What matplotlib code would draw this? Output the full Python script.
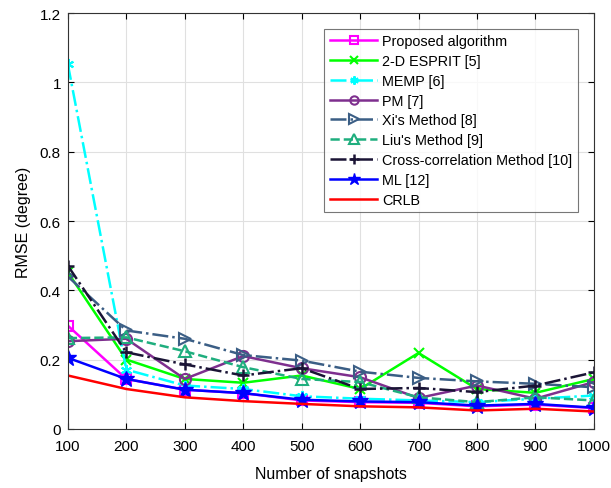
import matplotlib
matplotlib.use("Agg")
import matplotlib.pyplot as plt
import numpy as np

snapshots = [100, 200, 300, 400, 500, 600, 700, 800, 900, 1000]
proposed = [0.298, 0.144, 0.113, 0.103, 0.082, 0.077, 0.075, 0.065, 0.070, 0.060]
esprit = [0.452, 0.200, 0.144, 0.133, 0.154, 0.115, 0.219, 0.115, 0.104, 0.144]
memp = [1.053, 0.171, 0.125, 0.115, 0.094, 0.087, 0.082, 0.077, 0.087, 0.096]
pm = [0.253, 0.260, 0.144, 0.210, 0.175, 0.149, 0.089, 0.125, 0.087, 0.135]
xi = [0.440, 0.284, 0.260, 0.213, 0.197, 0.165, 0.147, 0.137, 0.130, 0.120]
liu = [0.262, 0.264, 0.224, 0.178, 0.144, 0.135, 0.091, 0.077, 0.091, 0.082]
cross = [0.471, 0.221, 0.186, 0.154, 0.175, 0.115, 0.118, 0.106, 0.125, 0.163]
ml = [0.205, 0.144, 0.113, 0.103, 0.084, 0.079, 0.077, 0.067, 0.072, 0.061]
crlb = [0.154, 0.115, 0.091, 0.080, 0.072, 0.065, 0.062, 0.053, 0.058, 0.050]

plt.rcParams['font.family'] = ['Liberation Sans', 'DejaVu Sans']

fig = plt.figure(figsize=(6.11, 4.89), dpi=100)
ax = fig.add_axes([0.111, 0.121, 0.861, 0.85])

lw = 1.8
ax.plot(snapshots, proposed, color='#FF00FF', marker='s', mfc='none', ms=7, mew=1.5, lw=lw, label='Proposed algorithm')
ax.plot(snapshots, esprit, color='#00FF00', marker='x', ms=7, mew=1.5, lw=lw, label='2-D ESPRIT [5]')
ax.plot(snapshots, memp, color='#00FFFF', marker=(6, 2, 0), ms=8, mew=1.5, lw=lw, ls='-.', label='MEMP [6]')
ax.plot(snapshots, pm, color='#7E2F8E', marker='o', mfc='none', ms=8, mew=1.5, lw=lw, label='PM [7]')
ax.plot(snapshots, xi, color='#3B5E85', marker='>', mfc='none', ms=9, mew=1.5, lw=lw, ls='-.', label="Xi's Method [8]")
ax.plot(snapshots, liu, color='#1FAE7E', marker='^', mfc='none', ms=9, mew=1.5, lw=lw, ls='--', label="Liu's Method [9]")
ax.plot(snapshots, cross, color='#1A1435', marker='+', ms=9, mew=1.8, lw=lw, ls='-.', label='Cross-correlation Method [10]')
ax.plot(snapshots, ml, color='#0000FF', marker='*', ms=12, lw=lw, label='ML [12]')
ax.plot(snapshots, crlb, color='#FF0000', lw=lw, label='CRLB')

ax.set_xlim(100, 1000)
ax.set_ylim(0, 1.2)
ax.set_xticks(snapshots)
ax.set_yticks([0, 0.2, 0.4, 0.6, 0.8, 1.0, 1.2])
ax.set_yticklabels(['0', '0.2', '0.4', '0.6', '0.8', '1', '1.2'])
ax.tick_params(direction='in', labelsize=11, top=True, right=True, length=4, width=0.8)
ax.tick_params(axis='x', pad=7)
ax.tick_params(axis='y', pad=5)
ax.grid(True, color='#E0E0E0', lw=0.8)
ax.set_axisbelow(True)
for s in ax.spines.values():
    s.set_color('#333333')
    s.set_linewidth(0.8)
ax.set_xlabel('Number of snapshots', fontsize=11.5, labelpad=10)
ax.set_ylabel('RMSE (degree)', fontsize=11.5, labelpad=6)

leg = ax.legend(loc='upper right', bbox_to_anchor=(0.97, 0.963), fontsize=10.4, frameon=True, fancybox=False,
                edgecolor='#555555', handlelength=3.25, labelspacing=0.4, borderpad=0.4, handletextpad=0.35,
                borderaxespad=0.0, markerscale=0.75)
leg.get_frame().set_linewidth(0.8)

fig.savefig('out.png', dpi=100)
